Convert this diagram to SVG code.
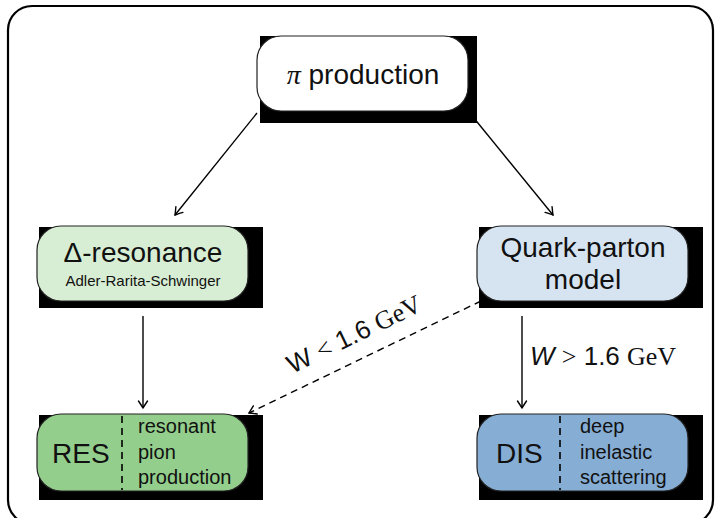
<svg xmlns="http://www.w3.org/2000/svg" width="717" height="518" viewBox="0 0 717 518">
  <style>
    .frame { fill: none; stroke: #000; stroke-width: 2.2; }
    .back { fill: #000; }
    .box { stroke: #222; stroke-width: 1.2; }
    .t { font-family: "Liberation Sans", Arial, sans-serif; fill: #111; }
    .big { font-size: 28px; }
    .mid { font-size: 20px; }
    .small { font-size: 15px; }
    .lbl { font-size: 26px; }
    .serif { font-family: "Liberation Serif", "Times New Roman", serif; }
    .edge { fill: none; stroke: #000; stroke-width: 1.4; }
    .dash { stroke-dasharray: 7 5; }
    .split { stroke: #000; stroke-width: 1.6; stroke-dasharray: 7 5; }
  </style>
  <defs>
    <marker id="arrow" markerUnits="userSpaceOnUse" markerWidth="14" markerHeight="14" viewBox="-10 -7 12 14" refX="0" refY="0" orient="auto">
      <path d="M -7 -4.5 Q -2 -1.2 0 0 Q -2 1.2 -7 4.5" fill="none" stroke="#000" stroke-width="1.4" stroke-linecap="round"/>
    </marker>
  </defs>

  <rect x="0" y="0" width="717" height="518" fill="#fff"/>
  <rect class="frame" x="8" y="6" width="705" height="518" rx="24"/>

  <!-- connectors -->
  <g id="connectors">
    <line class="edge" x1="257" y1="113" x2="175" y2="215" marker-end="url(#arrow)"/>
    <line class="edge" x1="469" y1="112" x2="553" y2="215" marker-end="url(#arrow)"/>
    <line class="edge" x1="143" y1="316" x2="143" y2="408" marker-end="url(#arrow)"/>
    <line class="edge" x1="522" y1="316" x2="522" y2="408" marker-end="url(#arrow)"/>
    <line class="edge dash" x1="481" y1="301" x2="249" y2="413" marker-end="url(#arrow)"/>
    <text class="t lbl" transform="translate(358 342) rotate(-26)" text-anchor="middle">W <tspan class="serif">&lt;</tspan> 1.6 <tspan class="serif">GeV</tspan></text>
    <text class="t lbl" x="530" y="365"><tspan font-style="italic">W</tspan>  <tspan class="serif">&gt;</tspan>  1.6 <tspan class="serif">GeV</tspan></text>
  </g>

  <!-- top node -->
  <g id="pi-production">
    <rect class="back" x="260" y="36" width="217" height="87"/>
    <rect class="box" x="257" y="36" width="211" height="75" rx="24" fill="#fff"/>
    <text class="t big" x="363" y="84" text-anchor="middle"><tspan class="serif" font-style="italic">π</tspan> production</text>
  </g>

  <g id="delta-resonance">
    <rect class="back" x="39" y="227" width="224" height="81"/>
    <rect class="box" x="37" y="226" width="211" height="75" rx="24" fill="#d8eed4"/>
    <text class="t big" x="143" y="262" text-anchor="middle">Δ-resonance</text>
    <text class="t small" x="143" y="286" text-anchor="middle">Adler-Rarita-Schwinger</text>
  </g>

  <g id="quark-parton">
    <rect class="back" x="479" y="227" width="224" height="81"/>
    <rect class="box" x="477" y="226" width="211" height="75" rx="24" fill="#d6e4f1"/>
    <text class="t big" x="583" y="257" text-anchor="middle">Quark-parton</text>
    <text class="t big" x="583" y="289" text-anchor="middle">model</text>
  </g>

  <g id="res">
    <rect class="back" x="39" y="415" width="224" height="85"/>
    <rect class="box" x="37" y="414" width="211" height="77" rx="24" fill="#94ce8c"/>
    <line class="split" x1="122" y1="416" x2="122" y2="490"/>
    <text class="t big" x="52" y="463">RES</text>
    <text class="t mid" x="138" y="433">resonant</text>
    <text class="t mid" x="138" y="459">pion</text>
    <text class="t mid" x="138" y="484">production</text>
  </g>

  <g id="dis">
    <rect class="back" x="479" y="415" width="224" height="85"/>
    <rect class="box" x="477" y="414" width="211" height="77" rx="24" fill="#86add4"/>
    <line class="split" x1="560" y1="416" x2="560" y2="490"/>
    <text class="t big" x="496" y="463">DIS</text>
    <text class="t mid" x="580" y="433">deep</text>
    <text class="t mid" x="580" y="459">inelastic</text>
    <text class="t mid" x="580" y="484">scattering</text>
  </g>
</svg>
